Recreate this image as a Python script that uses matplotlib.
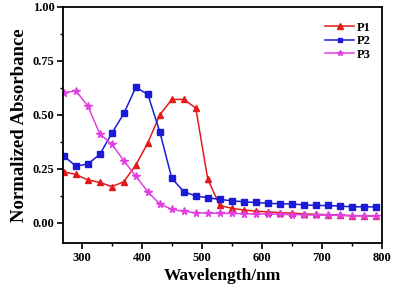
import matplotlib
matplotlib.use("Agg")
import matplotlib.pyplot as plt
from matplotlib.ticker import MultipleLocator

wavelength = [270, 290, 310, 330, 350, 370, 390, 410, 430, 450, 470, 490, 510, 530,
              550, 570, 590, 610, 630, 650, 670, 690, 710, 730, 750, 770, 790]
p1 = [0.235, 0.224, 0.198, 0.187, 0.167, 0.19, 0.267, 0.37, 0.499, 0.571, 0.571, 0.531,
      0.202, 0.08, 0.067, 0.059, 0.054, 0.05, 0.047, 0.045, 0.041, 0.039, 0.037, 0.035,
      0.033, 0.032, 0.031]
p2 = [0.309, 0.262, 0.272, 0.317, 0.414, 0.506, 0.627, 0.594, 0.421, 0.206, 0.144, 0.124,
      0.116, 0.108, 0.102, 0.097, 0.094, 0.09, 0.088, 0.087, 0.083, 0.08, 0.08, 0.077,
      0.074, 0.074, 0.073]
p3 = [0.602, 0.611, 0.54, 0.411, 0.364, 0.287, 0.216, 0.143, 0.087, 0.062, 0.053, 0.046,
      0.045, 0.044, 0.043, 0.042, 0.041, 0.04, 0.039, 0.038, 0.037, 0.036, 0.035, 0.034,
      0.033, 0.032, 0.031]
series_labels = ["P1", "P2", "P3"]
xticks = [300, 400, 500, 600, 700, 800]
yticks = [0.00, 0.25, 0.50, 0.75, 1.00]

plt.rcParams['font.family'] = ['Liberation Serif', 'DejaVu Serif']
plt.rcParams['font.weight'] = 'bold'

fig = plt.figure(figsize=(3.93, 2.92), dpi=100)
ax = fig.add_axes([0.1595, 0.1668, 0.8115, 0.8102])

ax.plot(wavelength, p1, color='#e41a1a', marker='^', markersize=5, lw=1.1, label=series_labels[0])
ax.plot(wavelength, p2, color='#1a1ad8', marker='s', markersize=4.3, lw=1.1, label=series_labels[1])
ax.plot(wavelength, p3, color='#e040e0', marker='*', markersize=5.5, lw=1.1, label=series_labels[2])

ax.set_xlim(268, 800)
ax.set_ylim(-0.095, 1.0)
ax.set_xticks(xticks)
ax.set_yticks(yticks)
ax.set_yticklabels([f"{v:.2f}" for v in yticks])
ax.xaxis.set_minor_locator(MultipleLocator(50))
ax.yaxis.set_minor_locator(MultipleLocator(0.125))
ax.tick_params(axis='both', which='major', direction='out', length=4, width=1.2,
               labelsize=9, pad=2)
ax.tick_params(axis='both', which='minor', direction='out', length=2, width=1.0)
for lbl in ax.get_xticklabels() + ax.get_yticklabels():
    lbl.set_fontweight('bold')
for s in ax.spines.values():
    s.set_linewidth(1.3)

ax.set_xlabel("Wavelength/nm", fontsize=12.5, fontweight='bold', labelpad=3)
ax.set_ylabel("Normalized Absorbance", fontsize=13.5, fontweight='bold', labelpad=3)

leg = ax.legend(loc='upper right', bbox_to_anchor=(1.0, 0.985), frameon=False,
                handlelength=2.3, markerscale=0.8,
                handletextpad=0.2, labelspacing=0.12, borderaxespad=0.5,
                prop={'weight': 'bold', 'size': 9})

fig.savefig("out.png", dpi=100)
